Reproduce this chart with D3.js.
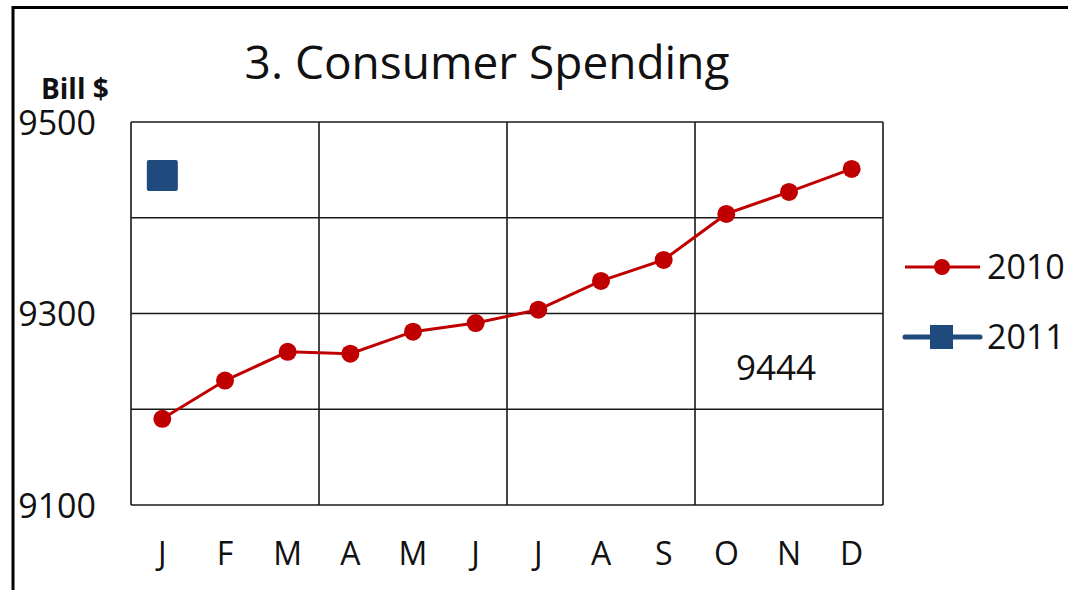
<!DOCTYPE html>
<html>
<head>
<meta charset="utf-8">
<script src="https://cdn.jsdelivr.net/npm/d3@7"></script>
<style>
  body { margin: 0; background: #fff; }
  text { font-family: "Open Sans", sans-serif; fill: #111; }
</style>
</head>
<body>
<script>
const months = ["J", "F", "M", "A", "M", "J", "J", "A", "S", "O", "N", "D"];
const spend2010 = [9190, 9230, 9260, 9258, 9281, 9290, 9304, 9334, 9356, 9404, 9427, 9451];
const spend2011 = [9444];
const yTicks = [9100, 9300, 9500];
const yGrid = [9100, 9200, 9300, 9400, 9500];

const m = { width: 1068, height: 590, left: 131, right: 883, top: 122, bottom: 505 };

let svg = d3.select("body")
  .append("svg")
  .attr("width", m.width)
  .attr("height", m.height);

let x = d3.scaleBand()
  .domain(d3.range(12))
  .range([m.left, m.right]);

let y = d3.scaleLinear()
  .domain([9100, 9500])
  .range([m.bottom, m.top]);

// outer frame (left + top only)
svg.append("path")
  .attr("d", `M13,${m.height} L13,7.5 L${m.width},7.5`)
  .attr("fill", "none")
  .attr("stroke", "#000")
  .attr("stroke-width", 3);

// title
svg.append("text")
  .attr("x", 487)
  .attr("y", 79)
  .attr("text-anchor", "middle")
  .attr("font-size", 46)
  .text("3. Consumer Spending");

svg.append("text")
  .attr("x", 41)
  .attr("y", 99)
  .attr("font-size", 28)
  .attr("font-weight", "bold")
  .text("Bill $");

// grid
let grid = svg.append("g").attr("stroke", "#1a1a1a").attr("stroke-width", 1.6);
grid.selectAll("line.h")
  .data(yGrid)
  .enter()
  .append("line")
  .attr("x1", m.left).attr("x2", m.right)
  .attr("y1", d => y(d)).attr("y2", d => y(d));

grid.selectAll("line.v")
  .data([0, 3, 6, 9, 12])
  .enter()
  .append("line")
  .attr("x1", d => d < 12 ? x(d) : m.right)
  .attr("x2", d => d < 12 ? x(d) : m.right)
  .attr("y1", m.top).attr("y2", m.bottom);

// y tick labels
svg.append("g")
  .selectAll("text")
  .data(yTicks)
  .enter()
  .append("text")
  .attr("x", 96)
  .attr("y", d => y(d))
  .attr("dy", "0.38em")
  .attr("text-anchor", "end")
  .attr("font-size", 34)
  .text(d => d);

// x labels
svg.append("g")
  .selectAll("text")
  .data(months)
  .enter()
  .append("text")
  .attr("x", (d, i) => x(i) + x.bandwidth() / 2)
  .attr("y", 565)
  .attr("text-anchor", "middle")
  .attr("font-size", 32)
  .text(d => d);

// 2010 series
const red = "#C00000";
const blue = "#1F4A7E";
let line = d3.line()
  .x((d, i) => x(i) + x.bandwidth() / 2)
  .y(d => y(d));

svg.append("path")
  .datum(spend2010)
  .attr("d", line)
  .attr("fill", "none")
  .attr("stroke", red)
  .attr("stroke-width", 3);

svg.append("g")
  .selectAll("circle")
  .data(spend2010)
  .enter()
  .append("circle")
  .attr("cx", (d, i) => x(i) + x.bandwidth() / 2)
  .attr("cy", d => y(d))
  .attr("r", 9)
  .attr("fill", red);

// 2011 series
const sq = 31;
svg.append("g")
  .selectAll("rect")
  .data(spend2011)
  .enter()
  .append("rect")
  .attr("x", (d, i) => x(i) + x.bandwidth() / 2 - sq / 2)
  .attr("y", d => y(d) - sq / 2)
  .attr("width", sq)
  .attr("height", sq)
  .attr("rx", 2)
  .attr("fill", blue);

svg.append("text")
  .attr("x", 776)
  .attr("y", 380)
  .attr("text-anchor", "middle")
  .attr("font-size", 35)
  .text(spend2011[0]);

// legend
let legend = svg.append("g");
legend.append("line")
  .attr("x1", 905).attr("x2", 980)
  .attr("y1", 267).attr("y2", 267)
  .attr("stroke", red).attr("stroke-width", 3);
legend.append("circle")
  .attr("cx", 942).attr("cy", 267).attr("r", 8)
  .attr("fill", red);
legend.append("text")
  .attr("x", 987).attr("y", 267).attr("dy", "0.36em")
  .attr("font-size", 34)
  .text("2010");

legend.append("line")
  .attr("x1", 905).attr("x2", 980)
  .attr("y1", 337).attr("y2", 337)
  .attr("stroke", blue).attr("stroke-width", 5)
  .attr("stroke-linecap", "round");
legend.append("rect")
  .attr("x", 930).attr("y", 325).attr("width", 23).attr("height", 24)
  .attr("fill", blue);
legend.append("text")
  .attr("x", 987).attr("y", 337).attr("dy", "0.36em")
  .attr("font-size", 34)
  .text("2011");
</script>
</body>
</html>
